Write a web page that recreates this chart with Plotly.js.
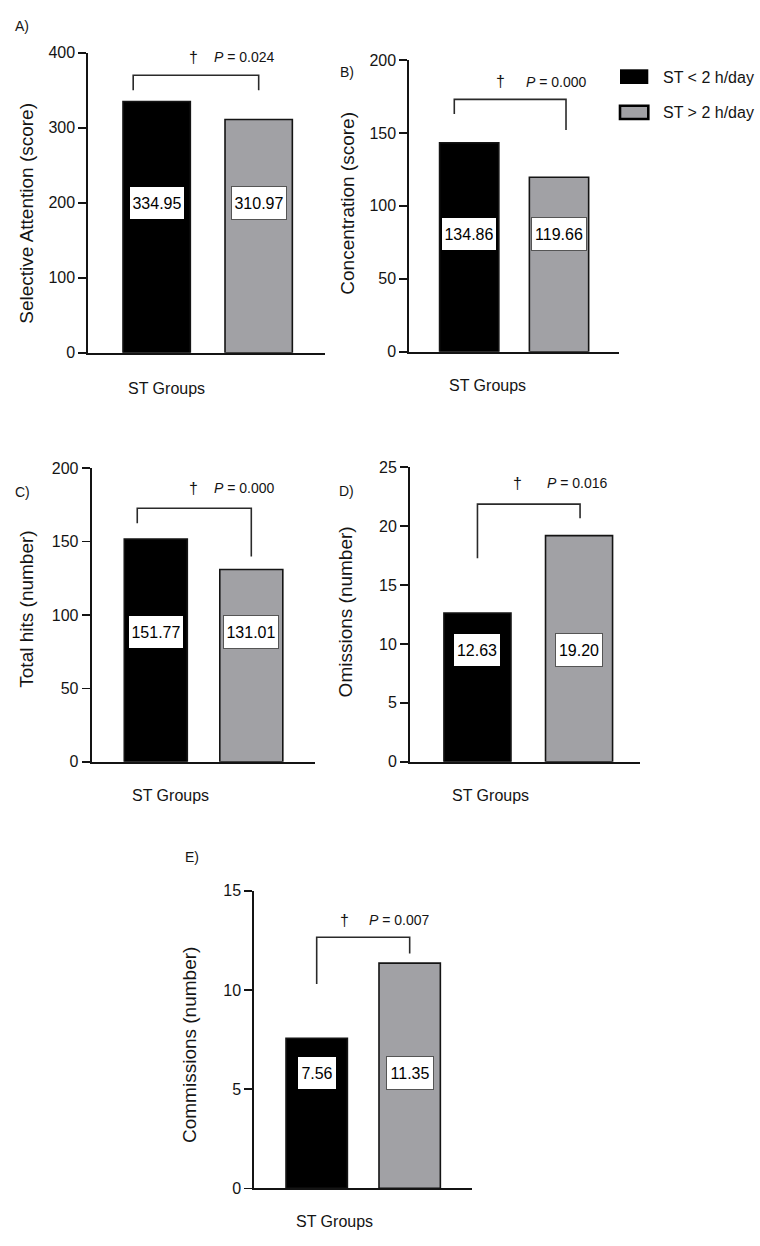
<!DOCTYPE html>
<html><head><meta charset="utf-8">
<script src="https://cdn.plot.ly/plotly-3.0.1.min.js"></script>
<style>html,body{margin:0;padding:0;background:#fff;overflow:hidden}#chart{width:760px;height:1246px}</style>
</head><body><div id="chart"></div>
<script>
// ---- data ----
const groups = ['ST < 2 h/day', 'ST > 2 h/day'];
const selectiveAttention = [334.95, 310.97];
const concentrationBars = [143.3, 119.66];      // bar heights as drawn
const concentrationLabels = [134.86, 119.66];   // values printed in the boxes
const totalHits = [151.77, 131.01];
const omissions = [12.63, 19.20];
const commissions = [7.56, 11.35];
const panelLetters = ['A)', 'B)', 'C)', 'D)', 'E)'];
const yTitles = ['Selective Attention (score)', 'Concentration (score)', 'Total hits (number)', 'Omissions (number)', 'Commissions (number)'];
const pValues = ['0.024', '0.000', '0.000', '0.016', '0.007'];
const yMax = [400, 200, 200, 25, 15];
const yStep = [100, 50, 50, 5, 5];
const xTitle = 'ST Groups';

// ---- layout ----
const W = 760, H = 1246;
const FONT = 'Liberation Sans, Arial, Helvetica, sans-serif';
const INK = '#141414';
const GRAY = '#a1a1a5';
const barColors = ['#000000', GRAY];

const panels = [
  {vals: selectiveAttention, labels: selectiveAttention, px: [88.3, 325, 52.7, 352.7], xr: [-0.67, 1.65], labelY: 200,
   br: {x0: -0.23, x1: 1.0, top: 370, l0: 350, l1: 350}, dag: [0.36, 394], p: [0.86, 394],
   letter: [21.5, 25.5], ytitle: [25.7, 213], xt: [166.7, 388]},
  {vals: concentrationBars, labels: concentrationLabels, px: [409.3, 619, 60, 351.7], xr: [-0.667, 1.668], labelY: 81,
   br: {x0: -0.166, x1: 1.078, top: 173, l0: 163, l1: 152}, dag: [0.343, 185], p: [0.974, 185],
   letter: [347, 72], ytitle: [346.7, 203], xt: [487.5, 385]},
  {vals: totalHits, labels: totalHits, px: [91.7, 315, 468.3, 761.7], xr: [-0.671, 1.667], labelY: 88.6,
   br: {x0: -0.194, x1: 1.0, top: 172.8, l0: 162.5, l1: 139.8}, dag: [0.393, 186.4], p: [0.926, 186.4],
   letter: [22, 492], ytitle: [25.7, 609], xt: [170.8, 795]},
  {vals: omissions, labels: omissions, px: [410, 640, 467.3, 761.7], xr: [-0.664, 1.6], labelY: 9.5,
   br: {x0: 0.0, x1: 1.01, top: 21.87, l0: 17.28, l1: 20.68}, dag: [0.394, 23.65], p: [0.987, 23.65],
   letter: [346, 491], ytitle: [345.7, 611.7], xt: [490, 795]},
  {vals: commissions, labels: commissions, px: [254.3, 471.7, 890.7, 1188.3], xr: [-0.671, 1.667], labelY: 5.8,
   br: {x0: 0.0, x1: 1.0, top: 12.65, l0: 10.3, l1: 11.84}, dag: [0.304, 13.52], p: [0.895, 13.52],
   letter: [192, 857], ytitle: [189, 1045], xt: [334, 1221.7]}
];

const data = [];
const layout = {
  width: W, height: H, margin: {l: 0, r: 0, t: 0, b: 0},
  paper_bgcolor: '#fff', plot_bgcolor: '#fff', showlegend: false,
  font: {family: FONT, color: INK},
  annotations: [], shapes: []
};

panels.forEach((p, i) => {
  const n = i + 1;
  const xa = 'x' + (n === 1 ? '' : n), ya = 'y' + (n === 1 ? '' : n);
  data.push({
    type: 'bar', x: [0, 1], y: p.vals, width: 0.66,
    xaxis: xa, yaxis: ya, name: yTitles[i], text: groups, hoverinfo: 'text+y', textposition: 'none',
    marker: {color: barColors, line: {color: INK, width: 1.6}}
  });
  layout['xaxis' + (n === 1 ? '' : n)] = {
    domain: [p.px[0] / W, p.px[1] / W], range: p.xr, anchor: ya,
    showline: true, linecolor: INK, linewidth: 2, showticklabels: false, ticks: '',
    showgrid: false, zeroline: false, fixedrange: true
  };
  layout['yaxis' + (n === 1 ? '' : n)] = {
    domain: [1 - p.px[3] / H, 1 - p.px[2] / H], range: [0, yMax[i]], anchor: xa,
    tick0: 0, dtick: yStep[i], ticks: 'outside', ticklen: 8, tickwidth: 1.6, tickcolor: INK,
    showline: true, linecolor: INK, linewidth: 2, showgrid: false, zeroline: false,
    tickfont: {size: 16, family: FONT, color: INK}, fixedrange: true
  };
  // value boxes
  p.labels.forEach((v, j) => {
    const s = v.toFixed(2);
    layout.annotations.push({
      xref: xa, yref: ya, x: j, y: p.labelY, text: s, showarrow: false,
      xanchor: 'center', yanchor: 'middle', width: Math.round(s.length * 8.4), height: 28,
      font: {family: FONT, size: 16, color: '#000'},
      bgcolor: '#fff', bordercolor: j === 0 ? '#000' : '#555', borderwidth: 1, borderpad: 2
    });
  });
  // bracket
  layout.shapes.push({
    type: 'path', xref: xa, yref: ya,
    path: `M ${p.br.x0},${p.br.l0} L ${p.br.x0},${p.br.top} L ${p.br.x1},${p.br.top} L ${p.br.x1},${p.br.l1}`,
    line: {color: '#2a2a2a', width: 1.6}
  });
  layout.annotations.push({xref: xa, yref: ya, x: p.dag[0], y: p.dag[1], text: '†', showarrow: false,
    font: {size: 16, color: INK}, xanchor: 'center', yanchor: 'middle'});
  layout.annotations.push({xref: xa, yref: ya, x: p.p[0], y: p.p[1], text: '<i>P</i> = ' + pValues[i], showarrow: false,
    font: {size: 14, color: INK}, xanchor: 'center', yanchor: 'middle'});
  // titles
  layout.annotations.push({xref: 'paper', yref: 'paper', x: p.ytitle[0] / W, y: 1 - p.ytitle[1] / H,
    text: yTitles[i], textangle: -90, showarrow: false, xanchor: 'center', yanchor: 'middle',
    font: {size: 19, color: INK}});
  layout.annotations.push({xref: 'paper', yref: 'paper', x: p.xt[0] / W, y: 1 - p.xt[1] / H,
    text: xTitle, showarrow: false, xanchor: 'center', yanchor: 'middle', font: {size: 16, color: INK}});
  layout.annotations.push({xref: 'paper', yref: 'paper', x: p.letter[0] / W, y: 1 - p.letter[1] / H,
    text: panelLetters[i], showarrow: false, xanchor: 'center', yanchor: 'middle', font: {size: 14, color: INK}});
});

// legend (custom, swatches + labels)
const legendRows = [{y0: 69.3, y1: 84, ty: 77.7, lw: 0}, {y0: 105.7, y1: 119, ty: 112, lw: 2.6}];
legendRows.forEach((r, j) => {
  layout.shapes.push({type: 'rect', xref: 'paper', yref: 'paper',
    x0: 620 / W, x1: 648.3 / W, y0: 1 - r.y1 / H, y1: 1 - r.y0 / H,
    fillcolor: barColors[j], line: {color: '#000', width: r.lw}});
  layout.annotations.push({xref: 'paper', yref: 'paper', x: 660.7 / W, y: 1 - r.ty / H,
    text: groups[j], showarrow: false, xanchor: 'left', yanchor: 'middle', font: {size: 16, color: INK}});
});

Plotly.newPlot('chart', data, layout, {staticPlot: true, displayModeBar: false});
</script>
</body></html>
